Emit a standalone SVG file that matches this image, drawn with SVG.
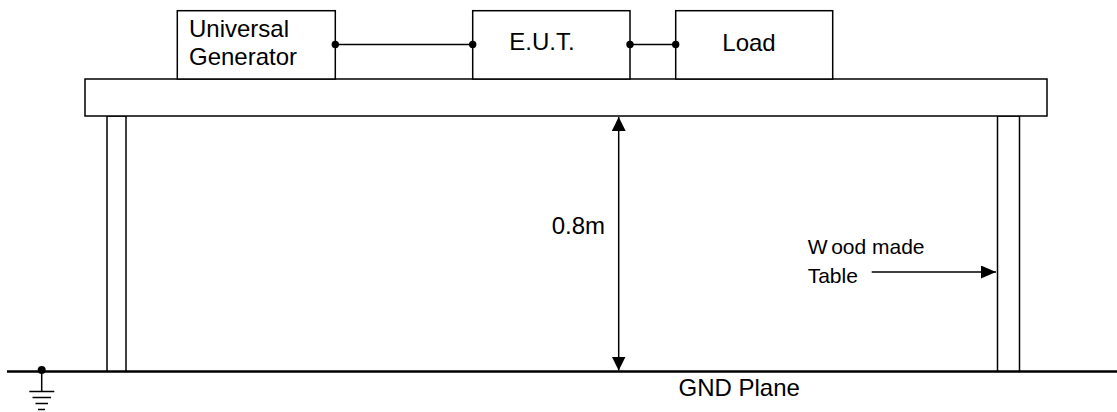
<svg xmlns="http://www.w3.org/2000/svg" width="1117" height="412" viewBox="0 0 1117 412">
<style>
  .box { fill: #fff; stroke: #000; stroke-width: 1.5; }
  .line { stroke: #000; stroke-width: 1.5; fill: none; }
  .thick { stroke: #000; stroke-width: 2.5; fill: none; }
  .dot { fill: #000; }
  .lbl { font-family: "Liberation Sans", Arial, sans-serif; font-size: 24px; fill: #000; }
  .sm { font-family: "Liberation Sans", Arial, sans-serif; font-size: 21px; fill: #000; }
</style>
<defs>
  <marker id="ah" viewBox="0 0 14 14" refX="14" refY="7" markerWidth="14" markerHeight="14" markerUnits="userSpaceOnUse" orient="auto-start-reverse">
    <path d="M0,0 L14,7 L0,14 Z" fill="#000"/>
  </marker>
  <marker id="ah2" viewBox="0 0 15 13" refX="15" refY="6.5" markerWidth="15" markerHeight="13" markerUnits="userSpaceOnUse" orient="auto">
    <path d="M0,0 L15,6.5 L0,13 Z" fill="#000"/>
  </marker>
</defs>

<g id="ground-plane">
  <line class="thick" x1="7" y1="371.5" x2="1117" y2="371.5"/>
  <text class="lbl" x="678.5" y="396">GND Plane</text>
</g>

<g id="ground-symbol">
  <circle class="dot" cx="41.7" cy="370" r="4"/>
  <line class="line" x1="41.7" y1="371" x2="41.7" y2="391.5"/>
  <line class="line" x1="29.3" y1="391.5" x2="54.3" y2="391.5"/>
  <line class="line" x1="32.5" y1="397.5" x2="51" y2="397.5"/>
  <line class="line" x1="35.5" y1="403.5" x2="48" y2="403.5"/>
  <line class="line" x1="38" y1="409.5" x2="45" y2="409.5"/>
</g>

<g id="table">
  <rect class="box" x="107" y="116" width="19" height="255"/>
  <rect class="box" x="997.5" y="116" width="22" height="255"/>
  <rect class="box" x="85" y="79" width="962" height="37" stroke-width="2"/>
</g>

<g id="universal-generator">
  <rect class="box" x="177.3" y="10.7" width="158" height="68.3"/>
  <text class="lbl" x="189" y="36.7">Universal</text>
  <text class="lbl" x="189" y="65">Generator</text>
</g>

<g id="eut">
  <rect class="box" x="472.7" y="10.7" width="157.3" height="68.3"/>
  <text class="lbl" x="509.3" y="50">E.U.T.</text>
</g>

<g id="load">
  <rect class="box" x="675.7" y="10.7" width="157" height="68.3"/>
  <text class="lbl" x="722.3" y="51">Load</text>
</g>

<g id="connectors">
  <line class="line" x1="335.3" y1="44.5" x2="472.7" y2="44.5"/>
  <line class="line" x1="630" y1="44.5" x2="675.7" y2="44.5"/>
  <circle class="dot" cx="335.3" cy="44.5" r="3.7"/>
  <circle class="dot" cx="472.7" cy="44.5" r="3.7"/>
  <circle class="dot" cx="630" cy="44.5" r="3.7"/>
  <circle class="dot" cx="675.7" cy="44.5" r="3.7"/>
</g>

<g id="height-dimension">
  <line class="line" x1="618.7" y1="117" x2="618.7" y2="370.5" marker-start="url(#ah)" marker-end="url(#ah)"/>
  <text class="lbl" x="551.7" y="234">0.8m</text>
</g>

<g id="wood-label">
  <text class="sm" x="807.7" y="254">W<tspan dx="4">ood made</tspan></text>
  <text class="sm" x="807.7" y="282.7">Table</text>
  <line class="line" x1="871.7" y1="272" x2="996" y2="272" marker-end="url(#ah2)"/>
</g>
</svg>
